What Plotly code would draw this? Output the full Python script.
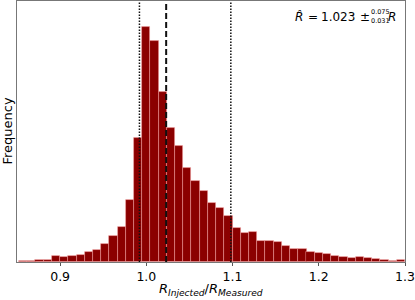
import plotly.graph_objects as go

# Histogram bin centers (bin width = 1/105) and frequencies
bin_centers = [0.8571, 0.8667, 0.8762, 0.8857, 0.8952, 0.9048, 0.9143, 0.9238, 0.9333, 0.9429,
               0.9524, 0.9619, 0.9714, 0.9810, 0.9905, 1.0000, 1.0095, 1.0190, 1.0286, 1.0381,
               1.0476, 1.0571, 1.0667, 1.0762, 1.0857, 1.0952, 1.1048, 1.1143, 1.1238, 1.1333,
               1.1429, 1.1524, 1.1619, 1.1714, 1.1810, 1.1905, 1.2000, 1.2095, 1.2190, 1.2286,
               1.2381, 1.2476, 1.2571, 1.2667, 1.2762, 1.2857, 1.2952]
frequency = [7, 10, 23, 23, 57, 50, 60, 73, 100, 123,
             180, 257, 347, 617, 1240, 2355, 2215, 1700, 1345, 1160,
             940, 815, 715, 590, 540, 463, 340, 290, 303, 213,
             210, 197, 160, 133, 133, 100, 93, 80, 57, 47,
             37, 47, 40, 27, 17, 7, 17]
bin_width = 1 / 105

r_hat = 1.023
r_low = 0.992
r_high = 1.098
x_tick_vals = [0.9, 1.0, 1.1, 1.2, 1.3]
x_tick_text = ["0.9", "1.0", "1.1", "1.2", "1.3"]

FONT = "DejaVu Sans"

fig = go.Figure()
fig.add_trace(go.Bar(
    x=bin_centers, y=frequency, width=bin_width,
    marker=dict(color="#8B0000", line=dict(color="rgba(255,170,170,0.55)", width=0.8)),
    showlegend=False, hoverinfo="skip",
))

for xv, dash, w in [(r_low, "1.5px,1.5px", 1.5), (r_hat, "6px,3px", 2), (r_high, "1.5px,1.5px", 1.5)]:
    fig.add_shape(type="line", xref="x", yref="paper", x0=xv, x1=xv, y0=0, y1=1,
                  line=dict(color="#111111", width=w, dash=dash))

fig.update_layout(
    width=415, height=300,
    margin=dict(l=17, r=10, t=1, b=38),
    plot_bgcolor="white", paper_bgcolor="white",
    bargap=0,
    font=dict(family=FONT, size=13, color="black"),
    xaxis=dict(range=[0.85, 1.3], tickvals=x_tick_vals, ticktext=x_tick_text,
               ticks="outside", ticklen=3, tickcolor="#555", showgrid=False, zeroline=False,
               showline=True, linecolor="#777", linewidth=1.2, mirror=True,
               tickfont=dict(size=12.5), ticklabeloverflow="allow"),
    yaxis=dict(range=[0, 2610], showticklabels=False, ticks="", showgrid=False, zeroline=False,
               showline=True, linecolor="#777", linewidth=1.2, mirror=True),
)


def px_note(text, px, py, size):
    # place a text piece with its left edge at pixel px and its middle at pixel py
    return dict(xref="paper", yref="paper", x=0, y=1, xshift=px - 17, yshift=-(py - 1),
                xanchor="left", yanchor="middle", text=text, showarrow=False,
                borderpad=0, font=dict(size=size))


ann = []
ann.append(dict(xref="paper", yref="paper", x=0.5, y=-0.105, xanchor="center", yanchor="middle",
                text="<i>R</i><sub><i>Injected</i></sub>/<i>R</i><sub><i>Measured</i></sub>",
                showarrow=False, font=dict(size=13)))
ann.append(dict(xref="paper", yref="paper", x=0, xshift=-10, y=0.5, xanchor="center", yanchor="middle",
                text="Frequency", textangle=-90, showarrow=False, font=dict(size=13)))
ann.append(px_note("<i>R̂</i>", 294, 16.5, 12))
ann.append(px_note("=", 307, 16.5, 12))
ann.append(px_note("1.023", 320, 16.5, 12))
ann.append(px_note("±", 359, 16.5, 12))
ann.append(px_note("0.075", 370, 11.5, 6.5))
ann.append(px_note("0.031", 370, 20.5, 6.5))
ann.append(px_note("<i>R</i>", 387, 16.5, 12))
fig.update_layout(annotations=ann)

fig.write_html("out.html", config={"displayModeBar": False},
               post_script="document.body.style.margin='0';document.body.style.overflow='hidden';")
